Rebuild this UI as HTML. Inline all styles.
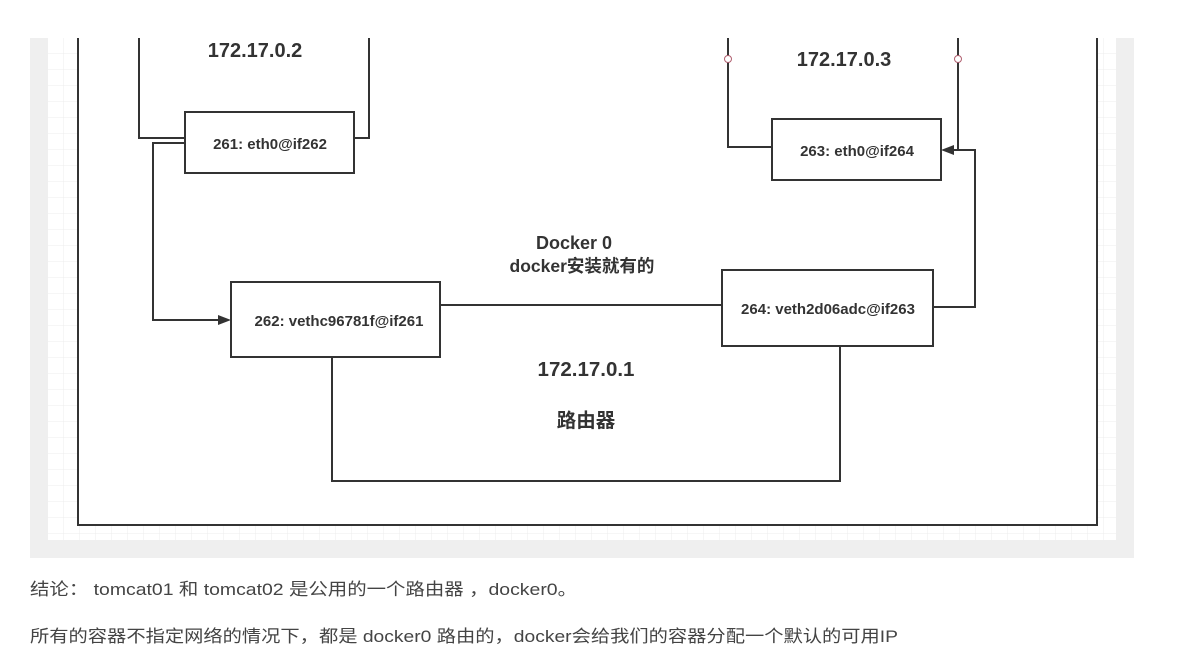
<!DOCTYPE html>
<html><head><meta charset="utf-8"><style>
html,body{margin:0;padding:0;background:#fff;width:1200px;height:661px;overflow:hidden}
</style></head><body>
<svg width="1200" height="661" style="position:absolute;left:0;top:0" font-family="Liberation Sans, Noto Sans CJK SC, sans-serif">
<defs>
<pattern id="g" width="16" height="16" patternUnits="userSpaceOnUse" x="48" y="38">
<path d="M16 0V16M0 16H16" stroke="#ececec" stroke-width="1" fill="none"/>
</pattern>
</defs>
<rect x="30" y="38" width="1104" height="520" fill="#efefef"/>
<rect x="48" y="38" width="1068" height="502" fill="#fff"/>
<rect x="48" y="38" width="1068" height="502" fill="url(#g)"/>
<rect x="78" y="38" width="1019" height="487" fill="#fff"/>
<g stroke="#333" stroke-width="2" fill="none">
<path d="M78 38V525H1097V38"/>
<path d="M139 38V138H185M354 138H369V38"/>
<rect x="185" y="112" width="169" height="61" fill="#fff"/>
<path d="M728 38V147H772M958 38V150"/>
<rect x="772" y="119" width="169" height="61" fill="#fff"/>
<path d="M185 143H153V320H222"/>
<rect x="231" y="282" width="209" height="75" fill="#fff"/>
<rect x="722" y="270" width="211" height="76" fill="#fff"/>
<path d="M440 305H722"/>
<path d="M933 307H975V150H950"/>
<path d="M332 357V481H840V346"/>
</g>
<path d="M231 320L218 315V325Z" fill="#333"/>
<path d="M941 150L954 145V155Z" fill="#333"/>
<circle cx="728" cy="59" r="3.5" fill="#fff" stroke="#b06070" stroke-width="1"/>
<circle cx="958" cy="59" r="3.5" fill="#fff" stroke="#b06070" stroke-width="1"/>
<g fill="#333" font-weight="bold" text-anchor="middle">
<text x="255" y="57" font-size="20">172.17.0.2</text>
<text x="844" y="66" font-size="20">172.17.0.3</text>
<text x="270" y="149" font-size="15">261: eth0@if262</text>
<text x="857" y="156" font-size="15">263: eth0@if264</text>
<text x="339" y="326" font-size="15">262: vethc96781f@if261</text>
<text x="828" y="314" font-size="15">264: veth2d06adc@if263</text>
<text x="574" y="249" font-size="18">Docker 0</text>
<text x="582" y="272" font-size="17.5">docker安装就有的</text>
<text x="586" y="376" font-size="20.5">172.17.0.1</text>
<text x="586" y="427" font-size="19.5">路由器</text>
</g>
<g fill="#444" font-size="17">
<text x="30" y="595" textLength="547" lengthAdjust="spacingAndGlyphs">结论： tomcat01 和 tomcat02 是公用的一个路由器 ，docker0。</text>
<text x="30" y="642" textLength="868" lengthAdjust="spacingAndGlyphs">所有的容器不指定网络的情况下，都是 docker0 路由的，docker会给我们的容器分配一个默认的可用IP</text>
</g>
</svg>
</body></html>
